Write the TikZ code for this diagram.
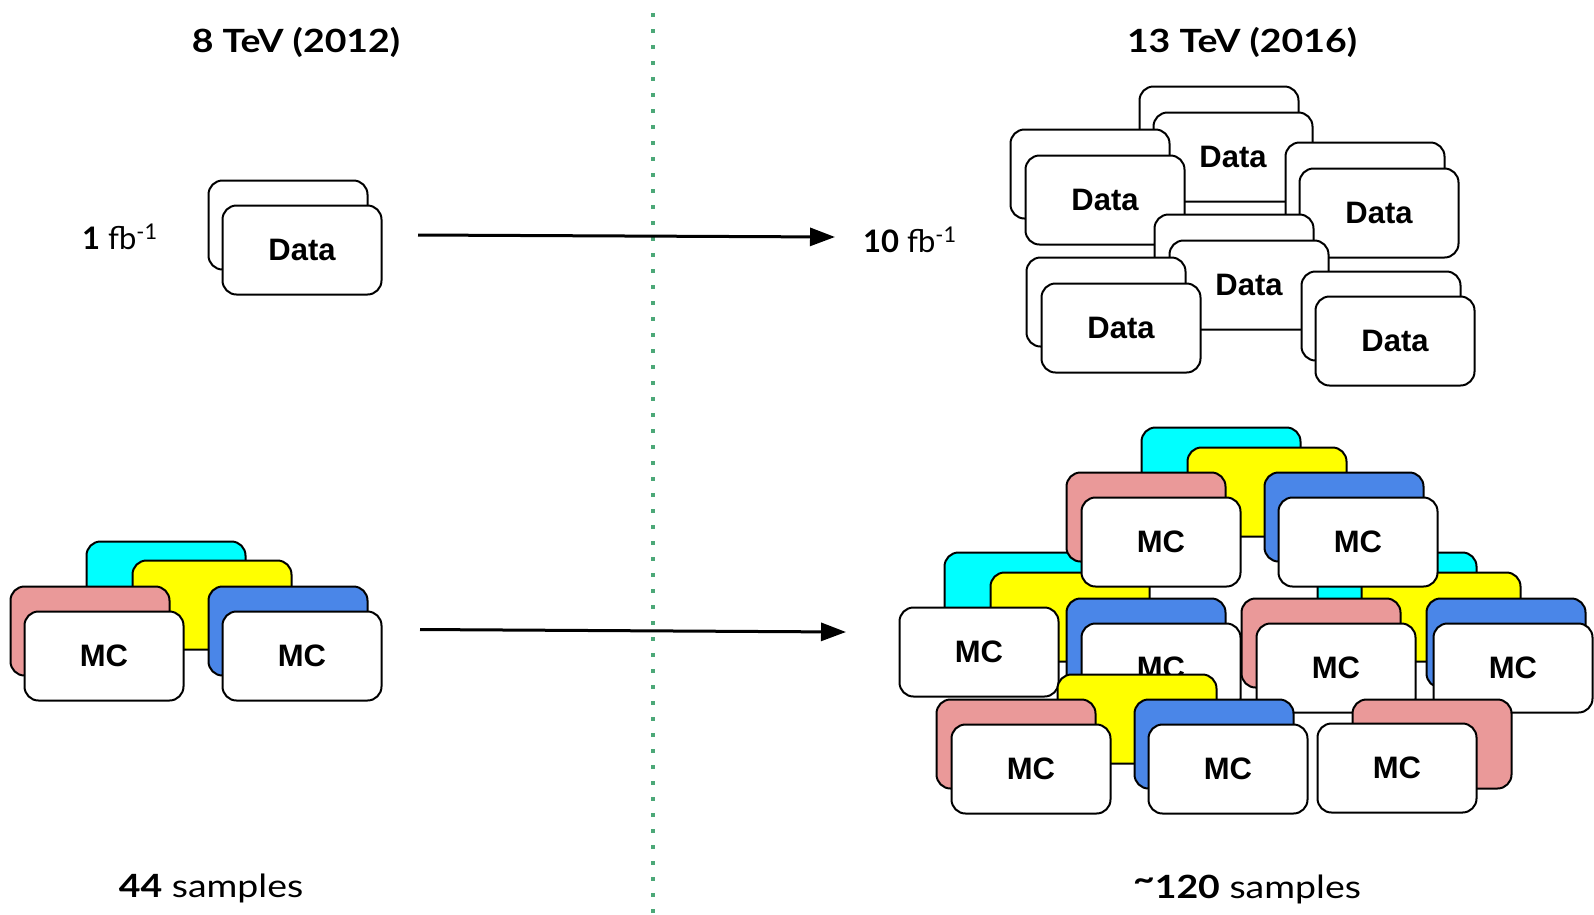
\documentclass[tikz,border=0pt]{standalone}
\usepackage{fontspec}
\setmainfont{Lato}
\newfontfamily\widefont[FakeStretch=1.17]{Lato}
\newfontfamily\cardfont{Liberation Sans}
\usetikzlibrary{arrows.meta}

\definecolor{cardcyan}{RGB}{0,255,255}
\definecolor{cardyellow}{RGB}{255,255,0}
\definecolor{cardpink}{RGB}{234,153,153}
\definecolor{cardblue}{RGB}{74,134,232}
\definecolor{divider}{RGB}{76,168,120}

\tikzset{
  card/.style={draw=black, line width=2pt, rounded corners=14pt,
    minimum width=159pt, minimum height=89pt, inner sep=0pt, fill=white,
    font=\cardfont\bfseries\fontsize{31}{31}\selectfont},
  cyancard/.style={card, fill=cardcyan},
  yellowcard/.style={card, fill=cardyellow},
  pinkcard/.style={card, fill=cardpink},
  bluecard/.style={card, fill=cardblue},
  heading/.style={anchor=base, inner sep=0pt, font=\widefont\bfseries\fontsize{32}{32}\selectfont},
  lumi/.style={anchor=base west, inner sep=0pt, font=\fontsize{31}{31}\selectfont},
  count/.style={anchor=base, inner sep=0pt, font=\widefont\fontsize{32}{32}\selectfont},
  growth/.style={line width=3pt, -{Triangle[length=25pt,width=18pt]}},
  separator/.style={draw=divider, line width=4pt, dash pattern=on 4pt off 12pt}
}

\begin{document}
\begin{tikzpicture}[x=1pt,y=-1pt]
\useasboundingbox (0,0) rectangle (1594,914);

% vertical separator between the two run periods
\coordinate (septop) at (653,13);
\coordinate (sepbot) at (653,914);
\draw[separator] (septop) -- (sepbot);

% column headings
\node[heading] (head8) at (296,52) {8 TeV (2012)};
\node[heading] (head13) at (1242,52) {13 TeV (2016)};

% ---- 8 TeV: data ----
\node[card] (d8b) at (288,225) {};
\node[card] (d8f) at (302,250) {Data};
\node[lumi] (lumi8) at (82,249) {\textbf{1} fb\textsuperscript{-1}};

% ---- 13 TeV: data ----
\node[card] (d1b) at (1219,131) {};
\node[card] (d1f) at (1233,157) {Data};
\node[card] (d2b) at (1090,174) {};
\node[card] (d2f) at (1105,200) {Data};
\node[card] (d3b) at (1365,187) {};
\node[card] (d3f) at (1379,213) {Data};
\node[card] (d4b) at (1234,259) {};
\node[card] (d4f) at (1249,285) {Data};
\node[card] (d5b) at (1106,302) {};
\node[card] (d5f) at (1121,328) {Data};
\node[card] (d6b) at (1381,316) {};
\node[card] (d6f) at (1395,341) {Data};
\node[lumi] (lumi13) at (863,252) {\textbf{10} fb\textsuperscript{-1}};

% ---- 8 TeV: simulation ----
\node[cyancard] (s8c) at (166,586) {};
\node[yellowcard] (s8y) at (212,605) {};
\node[pinkcard] (s8p) at (90,631) {};
\node[card] (s8w1) at (104,656) {MC};
\node[bluecard] (s8b) at (288,631) {};
\node[card] (s8w2) at (302,656) {MC};

% ---- 13 TeV: simulation ----
% middle row, rear cards
\node[cyancard] (rmc) at (1397,597) {};
\node[yellowcard] (rmy) at (1441,617) {};
\node[cyancard] (lmc) at (1024,597) {};
\node[yellowcard] (lmy) at (1070,617) {};
% top row
\node[cyancard] (tc) at (1221,472) {};
\node[yellowcard] (ty) at (1267,492) {};
\node[pinkcard] (tp) at (1146,517) {};
\node[card] (tw1) at (1161,542) {MC};
\node[bluecard] (tb) at (1344,517) {};
\node[card] (tw2) at (1358,542) {MC};
% middle row, left
\node[card] (lmw1) at (979,652) {MC};
\node[bluecard] (lmb) at (1146,643) {};
\node[card] (lmw2) at (1161,668) {MC};
% middle row, right
\node[pinkcard] (rmp) at (1321,643) {};
\node[card] (rmw1) at (1336,668) {MC};
\node[bluecard] (rmb) at (1506,643) {};
\node[card] (rmw2) at (1513,668) {MC};
% bottom row
\node[yellowcard] (by) at (1137,719) {};
\node[pinkcard] (bp1) at (1016,744) {};
\node[card] (bw1) at (1031,769) {MC};
\node[bluecard] (bb) at (1214,744) {};
\node[card] (bw2) at (1228,769) {MC};
\node[pinkcard] (bp2) at (1432,744) {};
\node[card] (bw3) at (1397,768) {MC};

% sample counts
\node[count] (n8) at (211,897) {\textbf{44} samples};
\node[count] (n13) at (1247,898) {\textbf{\raisebox{0.22em}{\textasciitilde}120} samples};

% growth arrows
\coordinate (a1s) at (418,235);
\coordinate (a1e) at (835,237);
\draw[growth] (a1s) -- (a1e);
\coordinate (a2s) at (420,629.5);
\coordinate (a2e) at (846,632);
\draw[growth] (a2s) -- (a2e);
\end{tikzpicture}
\end{document}
